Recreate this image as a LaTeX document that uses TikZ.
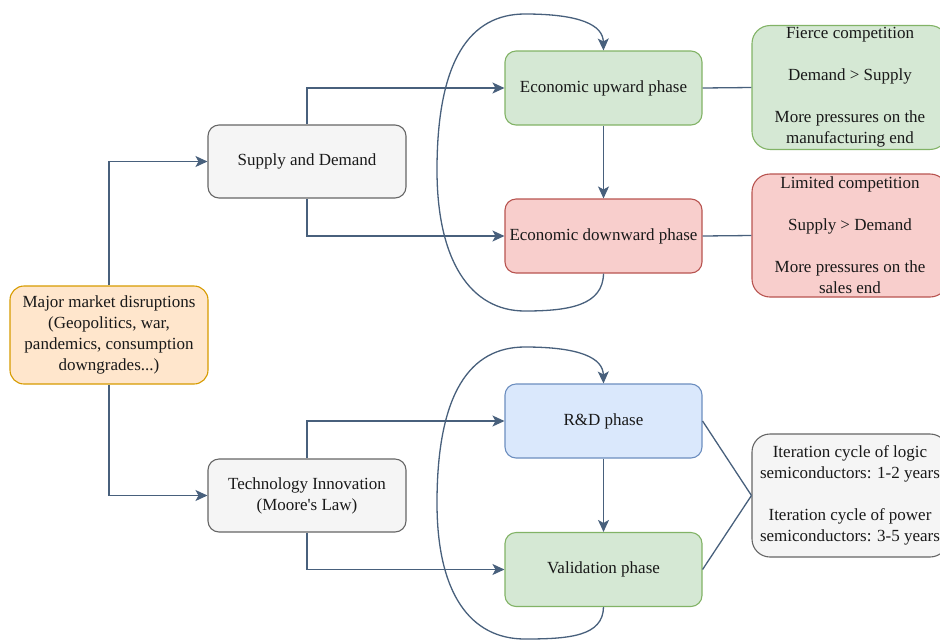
\documentclass[tikz,border=0pt]{standalone}
\usepackage{fontspec}
\setmainfont{Liberation Serif}
\usetikzlibrary{arrows.meta}

\definecolor{linkc}{RGB}{72,96,124}
\definecolor{greenf}{HTML}{D5E8D4}\definecolor{greend}{HTML}{82B366}
\definecolor{redf}{HTML}{F8CECC}\definecolor{redd}{HTML}{B85450}
\definecolor{bluef}{HTML}{DAE8FC}\definecolor{blued}{HTML}{6C8EBF}
\definecolor{grayf}{HTML}{F5F5F5}\definecolor{grayd}{HTML}{666666}
\definecolor{orangef}{HTML}{FFE6CC}\definecolor{oranged}{HTML}{D79B00}

\tikzset{
  box/.style={draw, line width=1.1pt, align=center, inner sep=2pt,
    font=\fontsize{17}{21}\selectfont, text=black!90},
  phase/.style={box, minimum width=197pt, minimum height=74pt, rounded corners=11pt},
  cause/.style={box, minimum width=198pt, minimum height=73pt, rounded corners=11pt, fill=grayf, draw=grayd},
  note/.style={box, minimum width=196pt, minimum height=123pt, rounded corners=18pt},
  link/.style={draw=linkc, line width=1.3pt},
  arr/.style={link, -{Stealth[length=12pt,width=11pt,inset=3pt]}},
}

\begin{document}
\begin{tikzpicture}[x=1pt,y=-1pt]
\useasboundingbox (0,0) rectangle (940,641);
\clip (0,0) rectangle (940,641);

% left column
\node[box, minimum width=198pt, minimum height=98pt, rounded corners=14pt,
      fill=orangef, draw=oranged] (major) at (109,335)
  {Major market disruptions\\(Geopolitics, war,\\pandemics, consumption\\downgrades...)};
\node[cause] (supply) at (307,161.5) {Supply and Demand};
\node[cause] (tech) at (307,495.5) {Technology Innovation\\(Moore\textquotesingle s Law)};

% phases
\node[phase, fill=greenf, draw=greend] (up) at (603.5,88) {Economic upward phase};
\node[phase, fill=redf, draw=redd] (down) at (603.5,236) {Economic downward phase};
\node[phase, fill=bluef, draw=blued] (rd) at (603.5,421) {R\&D phase};
\node[phase, fill=greenf, draw=greend] (val) at (603.5,569.5) {Validation phase};

% notes on the right
\node[note, fill=greenf, draw=greend] (fierce) at (850,87.5)
  {Fierce competition\\[21pt]Demand > Supply\\[21pt]More pressures on the\\manufacturing end};
\node[note, fill=redf, draw=redd] (limited) at (850,235.5)
  {Limited competition\\[21pt]Supply > Demand\\[21pt]More pressures on the\\sales end};
\node[note, fill=grayf, draw=grayd] (iter) at (850,495.5)
  {Iteration cycle of logic\\semiconductors: 1-2 years\\[21pt]Iteration cycle of power\\semiconductors: 3-5 years};

% tree connectors
\draw[arr] (major.north) |- (supply.west);
\draw[arr] (major.south) |- (tech.west);
\draw[arr] (supply.north) |- (up.west);
\draw[arr] (supply.south) |- (down.west);
\draw[arr] (tech.north) |- (rd.west);
\draw[arr] (tech.south) |- (val.west);
\draw[arr] (up.south) -- (down.north);
\draw[arr] (rd.south) -- (val.north);

% plain links to the notes
\draw[link] (up.east) -- (fierce.west);
\draw[link] (down.east) -- (limited.west);
\draw[link] (rd.east) -- (iter.west);
\draw[link] (val.east) -- (iter.west);

% feedback loops
\draw[arr] (down.south) .. controls (603,305) and (570,311) .. (525,311)
  .. controls (470,311) and (437,260) .. (437,170)
  .. controls (437,60) and (470,14) .. (525,14)
  .. controls (580,14) and (603,25) .. (up.north);
\draw[arr] (val.south) .. controls (603,636) and (570,639) .. (525,639)
  .. controls (470,639) and (437,593) .. (437,503)
  .. controls (437,393) and (470,347) .. (525,347)
  .. controls (580,347) and (603,358) .. (rd.north);
\end{tikzpicture}
\end{document}
